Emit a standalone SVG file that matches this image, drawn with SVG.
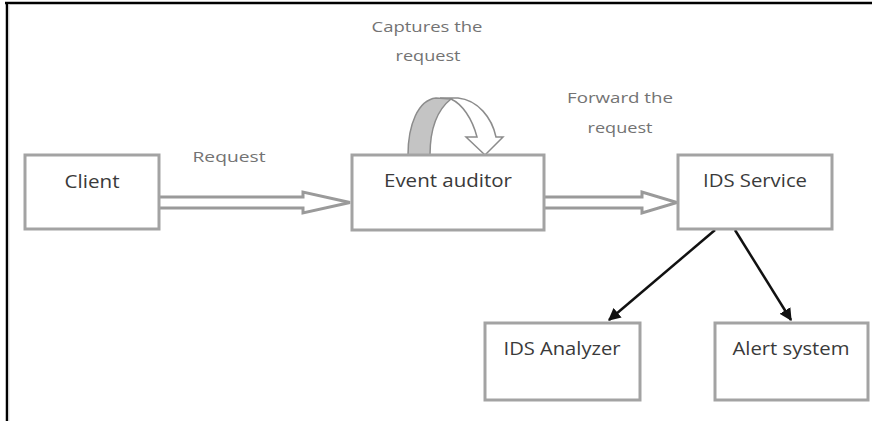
<svg xmlns="http://www.w3.org/2000/svg" width="872" height="421" viewBox="0 0 872 421">
<style>
.box{fill:#fff;stroke:#a3a3a3;stroke-width:3}
.t{font-family:"Open Sans","Liberation Sans",sans-serif;font-size:18px;font-weight:500;fill:#3a3a3a;text-anchor:middle}
.l{font-family:"Open Sans","Liberation Sans",sans-serif;font-size:15px;fill:#737373;text-anchor:middle}
.block{fill:#fff;stroke:#9a9a9a;stroke-width:3;stroke-linejoin:miter}
.conn{stroke:#111;stroke-width:2.5;fill:none}
</style>
<defs>
<marker id="ah" viewBox="0 0 10 10" refX="9" refY="5" markerWidth="5" markerHeight="5" orient="auto" markerUnits="strokeWidth">
<path d="M0,0 L10,5 L0,10 Z" fill="#111"/>
</marker>
</defs>
<rect x="0" y="0" width="872" height="421" fill="#fff"/>
<line x1="5" y1="3" x2="872" y2="3" stroke="#000" stroke-width="2.5"/>
<line x1="7" y1="2" x2="7" y2="421" stroke="#000" stroke-width="2.5"/>
<line x1="9" y1="4" x2="9" y2="421" stroke="#ddd" stroke-width="1"/>

<g id="connectors">
<path class="block" d="M160,197 H303 V192 L350,202.5 L303,213 V208 H160"/>
<path class="block" d="M544,197 H642 V192 L677,202.5 L642,213 V208 H544"/>
<path d="M440,98 L458,98 C478,100 492,118 496,137 L503,137 L485,155 L466,137 L477,137 C472,118 462,104 451,99 Z" fill="#fff" stroke="#8c8c8c" stroke-width="1.5"/>
<path d="M408,155 C408,125 418,100 436,98 L451,99 C437,110 430,130 430,155 Z" fill="#c4c4c4" stroke="#8c8c8c" stroke-width="1.5"/>
<line class="conn" x1="715" y1="230" x2="609" y2="320" marker-end="url(#ah)"/>
<line class="conn" x1="735" y1="230" x2="791" y2="320" marker-end="url(#ah)"/>
</g>

<g id="client">
<rect class="box" x="25" y="155" width="134" height="74"/>
<text class="t" x="92" y="188" textLength="55" lengthAdjust="spacingAndGlyphs">Client</text>
</g>
<g id="event-auditor">
<rect class="box" x="352" y="155" width="192" height="75"/>
<text class="t" x="448" y="187" textLength="128" lengthAdjust="spacingAndGlyphs">Event auditor</text>
</g>
<g id="ids-service">
<rect class="box" x="678" y="155" width="154" height="74"/>
<text class="t" x="755" y="187" textLength="104" lengthAdjust="spacingAndGlyphs">IDS Service</text>
</g>
<g id="ids-analyzer">
<rect class="box" x="485" y="323" width="155" height="77"/>
<text class="t" x="562" y="355" textLength="117" lengthAdjust="spacingAndGlyphs">IDS Analyzer</text>
</g>
<g id="alert-system">
<rect class="box" x="715" y="323" width="153" height="77"/>
<text class="t" x="791" y="355" textLength="117" lengthAdjust="spacingAndGlyphs">Alert system</text>
</g>

<g id="labels">
<text class="l" x="229" y="162" textLength="73" lengthAdjust="spacingAndGlyphs">Request</text>
<text class="l" x="427" y="32" textLength="111" lengthAdjust="spacingAndGlyphs">Captures the</text>
<text class="l" x="428" y="61" textLength="65" lengthAdjust="spacingAndGlyphs">request</text>
<text class="l" x="620" y="103" textLength="106" lengthAdjust="spacingAndGlyphs">Forward the</text>
<text class="l" x="620" y="133" textLength="65" lengthAdjust="spacingAndGlyphs">request</text>
</g>
</svg>
